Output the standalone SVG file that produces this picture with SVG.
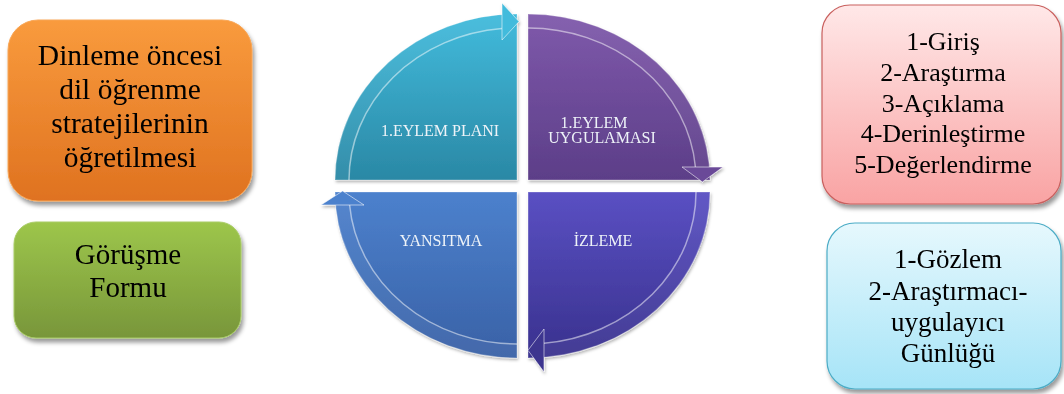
<svg xmlns="http://www.w3.org/2000/svg" width="1064" height="394" viewBox="0 0 1064 394">
  <defs>
    <linearGradient id="gOrange" x1="0" y1="0" x2="0" y2="1">
      <stop offset="0" stop-color="#f99b3d"/>
      <stop offset="1" stop-color="#df7220"/>
    </linearGradient>
    <linearGradient id="gGreen" x1="0" y1="0" x2="0" y2="1">
      <stop offset="0" stop-color="#9dc64b"/>
      <stop offset="1" stop-color="#78963a"/>
    </linearGradient>
    <linearGradient id="gRed" x1="0" y1="0" x2="0" y2="1">
      <stop offset="0" stop-color="#ffe8e8"/>
      <stop offset="1" stop-color="#f9a3a3"/>
    </linearGradient>
    <linearGradient id="gBlue" x1="0" y1="0" x2="0" y2="1">
      <stop offset="0" stop-color="#e6f8fd"/>
      <stop offset="1" stop-color="#a6e4f7"/>
    </linearGradient>
    <linearGradient id="gCyan" x1="0" y1="0" x2="0" y2="1">
      <stop offset="0" stop-color="#42bbdc"/>
      <stop offset="1" stop-color="#2a88a5"/>
    </linearGradient>
    <linearGradient id="gPurple" x1="0" y1="0" x2="0" y2="1">
      <stop offset="0" stop-color="#7f59ab"/>
      <stop offset="1" stop-color="#5c3e88"/>
    </linearGradient>
    <linearGradient id="gSteel" x1="0" y1="0" x2="0" y2="1">
      <stop offset="0" stop-color="#4c81cd"/>
      <stop offset="1" stop-color="#3961a6"/>
    </linearGradient>
    <linearGradient id="gIndigo" x1="0" y1="0" x2="0" y2="1">
      <stop offset="0" stop-color="#5a50c3"/>
      <stop offset="1" stop-color="#39318e"/>
    </linearGradient>
    <filter id="shadow" x="-10%" y="-10%" width="125%" height="130%">
      <feDropShadow dx="2" dy="4" stdDeviation="2" flood-color="#000" flood-opacity="0.4"/>
    </filter>
    <filter id="qshadow" x="-10%" y="-10%" width="125%" height="125%">
      <feDropShadow dx="1" dy="2" stdDeviation="1.5" flood-color="#000" flood-opacity="0.3"/>
    </filter>
  </defs>
  <style>
    .boxtxt { font-family: "Liberation Serif", "Times New Roman", serif; fill: #000; text-anchor: middle; }
    .qtxt { font-family: "Liberation Serif", "Times New Roman", serif; fill: #eef3f8; text-anchor: middle; font-size: 16px; }
    .band { fill: none; stroke: #ffffff; stroke-opacity: 0.05; stroke-width: 14; }
    .hl { fill: none; stroke: #ffffff; stroke-opacity: 0.5; stroke-width: 1.5; }
    .edge { stroke: #ffffff; stroke-opacity: 0.3; stroke-width: 1.2; }
    .head { stroke: #ffffff; stroke-opacity: 0.55; stroke-width: 1; }
  </style>

  <g id="box-orange" filter="url(#shadow)">
    <rect x="8" y="20" width="244" height="181" rx="30" fill="url(#gOrange)" stroke="#f8a656" stroke-width="1"/>
    <text class="boxtxt" font-size="29.5"><tspan x="130" y="65">Dinleme öncesi</tspan><tspan x="130" y="99">dil öğrenme</tspan><tspan x="130" y="133">stratejilerinin</tspan><tspan x="130" y="167">öğretilmesi</tspan></text>
  </g>

  <g id="box-green" filter="url(#shadow)">
    <rect x="14" y="222" width="227" height="116" rx="22" fill="url(#gGreen)" stroke="#a9cc66" stroke-width="1"/>
    <text class="boxtxt" font-size="29"><tspan x="128" y="264">Görüşme</tspan><tspan x="128" y="297">Formu</tspan></text>
  </g>

  <g id="box-red" filter="url(#shadow)">
    <rect x="822" y="5" width="239" height="199" rx="28" fill="url(#gRed)" stroke="#c9605e" stroke-width="1.2"/>
    <text class="boxtxt" font-size="26"><tspan x="943" y="50">1-Giriş</tspan><tspan x="943" y="81">2-Araştırma</tspan><tspan x="943" y="112">3-Açıklama</tspan><tspan x="943" y="142">4-Derinleştirme</tspan><tspan x="943" y="173">5-Değerlendirme</tspan></text>
  </g>

  <g id="box-lightblue" filter="url(#shadow)">
    <rect x="827" y="223" width="234" height="166" rx="28" fill="url(#gBlue)" stroke="#4bacc6" stroke-width="1.2"/>
    <text class="boxtxt" font-size="27"><tspan x="948" y="268">1-Gözlem</tspan><tspan x="948" y="300">2-Araştırmacı-</tspan><tspan x="948" y="331">uygulayıcı</tspan><tspan x="948" y="362">Günlüğü</tspan></text>
  </g>

  <g id="q-plan" filter="url(#qshadow)">
    <path d="M517,180 L335,180 A182,166 0 0 1 517,14 Z" fill="url(#gCyan)" class="edge"/>
    <path d="M342,180 A175,159 0 0 1 502,21.6" class="band"/>
    <path d="M349,180 A168,152 0 0 1 502,28.6" class="hl"/>
    <polygon points="502,3 519,21.6 502,40" fill="#42bbdc" class="head"/>
    <text class="qtxt" x="440" y="136">1.EYLEM PLANI</text>
  </g>

  <g id="q-uygulama" filter="url(#qshadow)">
    <path d="M528,180 L528,14 A182,166 0 0 1 710,180 Z" fill="url(#gPurple)" class="edge"/>
    <path d="M528,21 A175,159 0 0 1 702.4,167" class="band"/>
    <path d="M528,28 A168,152 0 0 1 695.4,167" class="hl"/>
    <polygon points="682,167 723,167 702.4,182" fill="#6a4a98" class="head"/>
    <text class="qtxt"><tspan x="594" y="128">1.EYLEM</tspan><tspan x="602" y="143">UYGULAMASI</tspan></text>
  </g>

  <g id="q-yansitma" filter="url(#qshadow)">
    <path d="M517,192 L335,192 A182,166 0 0 0 517,358 Z" fill="url(#gSteel)" class="edge"/>
    <path d="M517,351 A175,159 0 0 1 342.6,205" class="band"/>
    <path d="M517,344 A168,152 0 0 1 349.6,205" class="hl"/>
    <polygon points="321,205 364,205 342.6,191" fill="#4c81cd" class="head"/>
    <text class="qtxt" x="441" y="246">YANSITMA</text>
  </g>

  <g id="q-izleme" filter="url(#qshadow)">
    <path d="M528,192 L710,192 A182,166 0 0 1 528,358 Z" fill="url(#gIndigo)" class="edge"/>
    <path d="M703,192 A175,159 0 0 1 544,350.3" class="band"/>
    <path d="M696,192 A168,152 0 0 1 544,343.3" class="hl"/>
    <polygon points="544,329 544,372 528,350.3" fill="#3d358f" class="head"/>
    <text class="qtxt" x="603" y="246">İZLEME</text>
  </g>

  <g id="connectors"></g>
</svg>
